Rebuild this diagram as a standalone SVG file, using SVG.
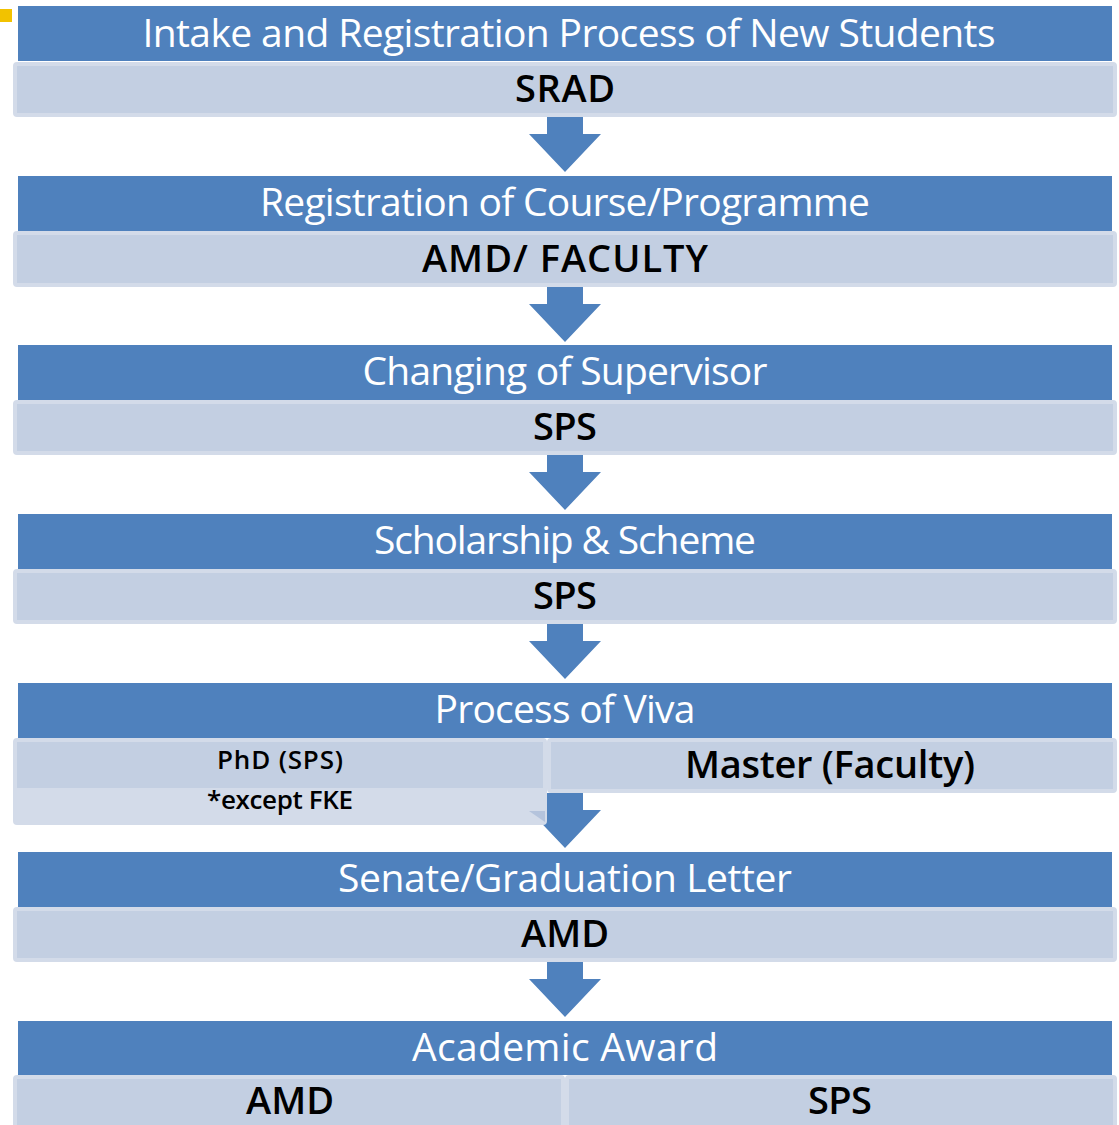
<svg xmlns="http://www.w3.org/2000/svg" width="1119" height="1125" viewBox="0 0 1119 1125">
<style>
.hdr{fill:#4f81bd}
.sub{fill:#c3cfe2;stroke:#d3dbe9;stroke-width:4}
.sub2{fill:#d3dbe9;stroke:#d3dbe9;stroke-width:4}
.arr{fill:#4f81bd}
.ht{font-family:"Open Sans","Noto Sans",sans-serif;font-size:39px;fill:#fff;text-anchor:middle}
.st{font-family:"Open Sans","Noto Sans",sans-serif;font-weight:600;font-size:38px;fill:#000;text-anchor:middle}
.sm{font-family:"Open Sans","Noto Sans",sans-serif;font-weight:600;font-size:26px;fill:#000;text-anchor:middle}
</style>
<defs>
<path id="arrow" d="M547,0 H583 V17 H601 L565,55 L529,17 H547 Z"/>
</defs>
<rect x="0" y="9" width="12" height="13" fill="#f2c200"/>
<g id="connectors">
<use href="#arrow" class="arr" transform="translate(0,117)"/>
<use href="#arrow" class="arr" transform="translate(0,287)"/>
<use href="#arrow" class="arr" transform="translate(0,455)"/>
<use href="#arrow" class="arr" transform="translate(0,624)"/>
<use href="#arrow" class="arr" transform="translate(0,793)"/>
<use href="#arrow" class="arr" transform="translate(0,962)"/>
</g>
<g id="n1">
<rect class="hdr" x="18" y="6" width="1094" height="55"/>
<text class="ht" x="569" y="47" textLength="853">Intake and Registration Process of New Students</text>
<rect class="sub" x="15" y="64" width="1100" height="51" rx="2"/>
<text class="st" x="565" y="102" textLength="100">SRAD</text>
</g>
<g id="n2">
<rect class="hdr" x="18" y="176" width="1094" height="55"/>
<text class="ht" x="565" y="216" textLength="610">Registration of Course/Programme</text>
<rect class="sub" x="15" y="233" width="1100" height="52" rx="2"/>
<text class="st" x="565" y="272" textLength="286">AMD/ FACULTY</text>
</g>
<g id="n3">
<rect class="hdr" x="18" y="345" width="1094" height="55"/>
<text class="ht" x="565" y="385" textLength="405">Changing of Supervisor</text>
<rect class="sub" x="15" y="402" width="1100" height="51" rx="2"/>
<text class="st" x="565" y="440" textLength="64">SPS</text>
</g>
<g id="n4">
<rect class="hdr" x="18" y="514" width="1094" height="55"/>
<text class="ht" x="565" y="554" textLength="382">Scholarship &amp; Scheme</text>
<rect class="sub" x="15" y="571" width="1100" height="51" rx="2"/>
<text class="st" x="565" y="609" textLength="64">SPS</text>
</g>
<g id="n5">
<rect class="hdr" x="18" y="683" width="1094" height="55"/>
<text class="ht" x="565" y="723" textLength="261">Process of Viva</text>
<rect class="sub" x="549" y="740" width="566" height="51" rx="2"/>
<text class="st" x="830" y="778" textLength="290">Master (Faculty)</text>
<rect class="sub2" x="15" y="740" width="530" height="83" rx="2"/>
<rect fill="#c3cfe2" x="17" y="742" width="526" height="46"/>
<polygon points="529,811 545,811 545,822" fill="#b4c3dc"/>
<text class="sm" x="280" y="769" textLength="126">PhD (SPS)</text>
<text class="sm" x="280" y="809" textLength="146">*except FKE</text>
</g>
<g id="n6">
<rect class="hdr" x="18" y="852" width="1094" height="55"/>
<text class="ht" x="565" y="892" textLength="454">Senate/Graduation Letter</text>
<rect class="sub" x="15" y="909" width="1100" height="51" rx="2"/>
<text class="st" x="565" y="947" textLength="88">AMD</text>
</g>
<g id="n7">
<rect class="hdr" x="18" y="1021" width="1094" height="54"/>
<text class="ht" x="565" y="1061" textLength="306">Academic Award</text>
<rect class="sub" x="15" y="1077" width="548" height="52" rx="2"/>
<rect class="sub" x="567" y="1077" width="548" height="52" rx="2"/>
<text class="st" x="290" y="1114" textLength="88">AMD</text>
<text class="st" x="840" y="1114" textLength="64">SPS</text>
</g>
</svg>
